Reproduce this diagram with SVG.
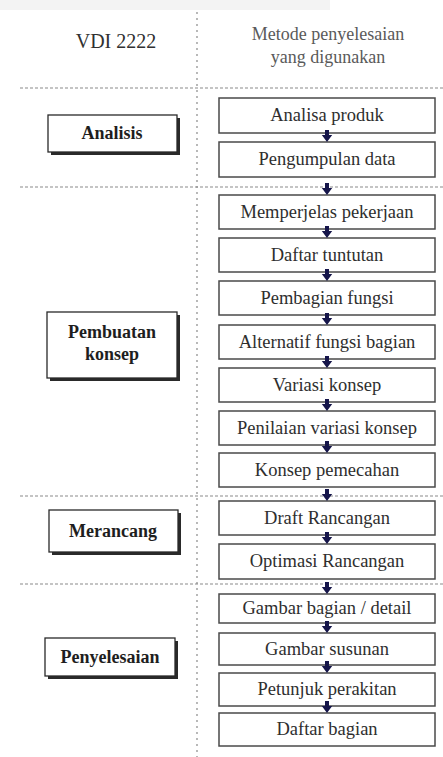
<svg xmlns="http://www.w3.org/2000/svg" width="443" height="757" viewBox="0 0 443 757" font-family="Liberation Serif">
  <defs>
    <!-- short downward arrow, tip at origin -->
    <path id="arr" d="M-2,-12 h4 v5 h3.2 l-5.2,7 l-5.2,-7 h3.2 z"/>
  </defs>

  <rect width="443" height="757" fill="#ffffff"/>
  <rect x="0" y="0" width="330" height="10" fill="#f3f3f3"/>

  <!-- column headings -->
  <g id="heading">
    <text style="font-family: 'Liberation Serif', 'DejaVu Serif', serif; font-size: 20px" text-anchor="middle" x="116" y="48" fill="#303030">VDI 2222</text>
    <text style="font-family: 'Liberation Serif', 'DejaVu Serif', serif; font-size: 18px" text-anchor="middle" x="328" y="40" fill="#5a5a5a">Metode penyelesaian</text>
    <text style="font-family: 'Liberation Serif', 'DejaVu Serif', serif; font-size: 18px" text-anchor="middle" x="328" y="63" fill="#5a5a5a">yang digunakan</text>
  </g>

  <!-- grid lines -->
  <g id="grid" stroke="#8a8a8a" stroke-width="1.2" fill="none">
    <line x1="197" y1="12" x2="197" y2="757" stroke-dasharray="2 4"/>
    <g stroke-dasharray="3 2">
      <line x1="20" y1="88" x2="443" y2="88"/>
      <line x1="20" y1="187" x2="443" y2="187"/>
      <line x1="20" y1="496" x2="443" y2="496"/>
      <line x1="20" y1="584" x2="443" y2="584"/>
    </g>
  </g>

  <!-- phases (left column): white box with a dark drop shadow -->
  <g id="phases">
    <g id="phase-analisis">
      <rect x="51" y="118" width="129" height="37" fill="#2a2a2a"/>
      <rect x="48" y="115" width="129" height="37" fill="#ffffff" stroke="#2a2a2a" stroke-width="1.3"/>
      <text style="font-family: 'Liberation Serif', 'DejaVu Serif', serif; font-size: 18px; font-weight: bold" text-anchor="middle" x="112" y="139" fill="#1e1e1e">Analisis</text>
    </g>
    <g id="phase-konsep">
      <rect x="50" y="315" width="130" height="66" fill="#2a2a2a"/>
      <rect x="47" y="312" width="130" height="66" fill="#ffffff" stroke="#2a2a2a" stroke-width="1.3"/>
      <text style="font-family: 'Liberation Serif', 'DejaVu Serif', serif; font-size: 18px; font-weight: bold" text-anchor="middle" x="112" y="338" fill="#1e1e1e">Pembuatan</text>
      <text style="font-family: 'Liberation Serif', 'DejaVu Serif', serif; font-size: 18px; font-weight: bold" text-anchor="middle" x="112" y="360" fill="#1e1e1e">konsep</text>
    </g>
    <g id="phase-merancang">
      <rect x="52" y="513" width="129" height="42" fill="#2a2a2a"/>
      <rect x="49" y="510" width="129" height="42" fill="#ffffff" stroke="#2a2a2a" stroke-width="1.3"/>
      <text style="font-family: 'Liberation Serif', 'DejaVu Serif', serif; font-size: 18px; font-weight: bold" text-anchor="middle" x="113" y="537" fill="#1e1e1e">Merancang</text>
    </g>
    <g id="phase-penyelesaian">
      <rect x="48" y="641" width="130" height="38" fill="#2a2a2a"/>
      <rect x="45" y="638" width="130" height="38" fill="#ffffff" stroke="#2a2a2a" stroke-width="1.3"/>
      <text style="font-family: 'Liberation Serif', 'DejaVu Serif', serif; font-size: 18px; font-weight: bold" text-anchor="middle" x="110" y="663" fill="#1e1e1e">Penyelesaian</text>
    </g>
  </g>

  <!-- steps (right column) -->
  <g id="steps">
    <g id="step-boxes" fill="#ffffff" stroke="#4a4a4a" stroke-width="1.5">
      <rect id="s1" x="219" y="98" width="216" height="35"/>
      <rect id="s2" x="219" y="142" width="216" height="35"/>
      <rect id="s3" x="219" y="195" width="216" height="34"/>
      <rect id="s4" x="219" y="238" width="216" height="34"/>
      <rect id="s5" x="219" y="281" width="216" height="34"/>
      <rect id="s6" x="219" y="325" width="216" height="34"/>
      <rect id="s7" x="219" y="368" width="216" height="34"/>
      <rect id="s8" x="219" y="411" width="216" height="34"/>
      <rect id="s9" x="219" y="453" width="216" height="34"/>
      <rect id="s10" x="219" y="501" width="216" height="34"/>
      <rect id="s11" x="219" y="544" width="216" height="35"/>
      <rect id="s12" x="219" y="594" width="216" height="29"/>
      <rect id="s13" x="219" y="633" width="216" height="32"/>
      <rect id="s14" x="219" y="673" width="216" height="33"/>
      <rect id="s15" x="219" y="713" width="216" height="33"/>
    </g>
    <g id="step-labels" fill="#2e2e2e">
      <text style="font-family: 'Liberation Serif', 'DejaVu Serif', serif; font-size: 18.5px" text-anchor="middle" x="327" y="121">Analisa produk</text>
      <text style="font-family: 'Liberation Serif', 'DejaVu Serif', serif; font-size: 18.5px" text-anchor="middle" x="327" y="165">Pengumpulan data</text>
      <text style="font-family: 'Liberation Serif', 'DejaVu Serif', serif; font-size: 18.5px" text-anchor="middle" x="327" y="218">Memperjelas pekerjaan</text>
      <text style="font-family: 'Liberation Serif', 'DejaVu Serif', serif; font-size: 18.5px" text-anchor="middle" x="327" y="261">Daftar tuntutan</text>
      <text style="font-family: 'Liberation Serif', 'DejaVu Serif', serif; font-size: 18.5px" text-anchor="middle" x="327" y="304">Pembagian fungsi</text>
      <text style="font-family: 'Liberation Serif', 'DejaVu Serif', serif; font-size: 18.5px" text-anchor="middle" x="327" y="348">Alternatif fungsi bagian</text>
      <text style="font-family: 'Liberation Serif', 'DejaVu Serif', serif; font-size: 18.5px" text-anchor="middle" x="327" y="391">Variasi konsep</text>
      <text style="font-family: 'Liberation Serif', 'DejaVu Serif', serif; font-size: 18.5px" text-anchor="middle" x="327" y="434">Penilaian variasi konsep</text>
      <text style="font-family: 'Liberation Serif', 'DejaVu Serif', serif; font-size: 18.5px" text-anchor="middle" x="327" y="476">Konsep pemecahan</text>
      <text style="font-family: 'Liberation Serif', 'DejaVu Serif', serif; font-size: 18.5px" text-anchor="middle" x="327" y="524">Draft Rancangan</text>
      <text style="font-family: 'Liberation Serif', 'DejaVu Serif', serif; font-size: 18.5px" text-anchor="middle" x="327" y="567">Optimasi Rancangan</text>
      <text style="font-family: 'Liberation Serif', 'DejaVu Serif', serif; font-size: 18.5px" text-anchor="middle" x="327" y="614">Gambar bagian / detail</text>
      <text style="font-family: 'Liberation Serif', 'DejaVu Serif', serif; font-size: 18.5px" text-anchor="middle" x="327" y="655">Gambar susunan</text>
      <text style="font-family: 'Liberation Serif', 'DejaVu Serif', serif; font-size: 18.5px" text-anchor="middle" x="327" y="695">Petunjuk perakitan</text>
      <text style="font-family: 'Liberation Serif', 'DejaVu Serif', serif; font-size: 18.5px" text-anchor="middle" x="327" y="735">Daftar bagian</text>
    </g>
  </g>

  <!-- connectors between steps -->
  <g id="connectors" fill="#15154a">
    <use href="#arr" x="327" y="142"/>
    <use href="#arr" x="327" y="195"/>
    <use href="#arr" x="327" y="238"/>
    <use href="#arr" x="327" y="281"/>
    <use href="#arr" x="327" y="325"/>
    <use href="#arr" x="327" y="368"/>
    <use href="#arr" x="327" y="411"/>
    <use href="#arr" x="327" y="453"/>
    <use href="#arr" x="327" y="501"/>
    <use href="#arr" x="327" y="544"/>
    <use href="#arr" x="327" y="594"/>
    <use href="#arr" x="327" y="633"/>
    <use href="#arr" x="327" y="673"/>
    <use href="#arr" x="327" y="713"/>
  </g>
</svg>
